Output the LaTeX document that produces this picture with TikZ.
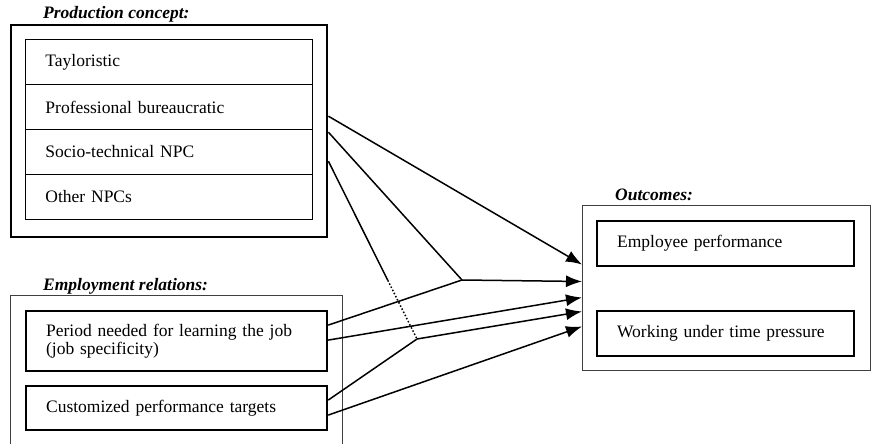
\documentclass[tikz,border=0pt]{standalone}
\usepackage{fontspec}
\setmainfont{Liberation Serif}
\usepackage{tikz}
\usetikzlibrary{arrows.meta,calc}

\tikzset{
    txt/.style={font=\fontsize{17.5}{18.5}\selectfont},
    heading/.style={txt, font=\fontsize{17.5}{18.5}\selectfont\bfseries\itshape, anchor=base west, inner sep=0pt},
    frame/.style={draw=black!75, line width=1pt, anchor=north west, inner sep=0pt},
    heavyframe/.style={draw, line width=2.4pt, anchor=north west, inner sep=0pt},
    row/.style={txt, draw, line width=0.9pt, anchor=north west, minimum height=45pt, text width=247pt, inner xsep=20pt, inner ysep=0pt, align=left},
    item/.style={txt, draw, line width=2.2pt, anchor=north west, inner xsep=20pt, inner ysep=0pt, align=left},
    line/.style={line width=1.5pt},
    link/.style={line, -{Latex[length=16pt,width=12pt]}}
}

\begin{document}
\begin{tikzpicture}[x=1pt,y=-1pt]
    \useasboundingbox (0,0) rectangle (871,444);
    \clip (0,0) rectangle (871,444);

    \node[heading] (prodlabel) at (43,19) {Production concept:};
    \node[heavyframe, minimum width=316pt, minimum height=212pt] (prodbox) at (10,24) {};
    \foreach \name/\label [count=\i] in {taylor/Tayloristic, profbur/Professional bureaucratic, sociotech/Socio-technical NPC, othernpc/Other NPCs}
        \node[row] (\name) at (25,{39+45*(\i-1)}) {\label};

    \node[heading] (emplabel) at (43,290) {Employment relations:};
    \node[frame, minimum width=332pt, minimum height=200pt] (empbox) at (10,295) {};
    \node[item, text width=261pt, minimum height=60pt] (learning) at (25,310) {Period needed for learning the job\\(job specificity)};
    \node[item, text width=261pt, minimum height=44pt] (targets) at (25,385) {Customized performance targets};

    \node[heading] (outlabel) at (615,200) {Outcomes:};
    \node[frame, minimum width=288pt, minimum height=165pt] (outbox) at (582,205) {};
    \node[item, text width=217pt, minimum height=45pt] (perform) at (596,220) {Employee performance};
    \node[item, text width=217pt, minimum height=45pt] (pressure) at (596,310) {Working under time pressure};

    \coordinate (jA) at (462,280);
    \coordinate (jB) at (417,339);

    \draw[link] ([yshift=15pt]prodbox.east) -- ([yshift=23.5pt]outbox.west);
    \draw[line] ([yshift=-1pt]prodbox.east) -- (jA);
    \draw[line] ([yshift=16pt]learning.east) -- (jA);
    \draw[link] (jA) -- ([yshift=6.5pt]outbox.west);
    \draw[link] ([yshift=1pt]learning.east) -- ([yshift=-9.5pt]outbox.west);
    \draw[line] ([yshift=-30pt]prodbox.east) coordinate (p3) -- ($(p3)!0.67!(jB)$) coordinate (dotstart);
    \draw[line, dotted] (dotstart) -- (jB);
    \draw[line] ([yshift=8pt]targets.east) -- (jB);
    \draw[link] (jB) -- ([yshift=-23.5pt]outbox.west);
    \draw[link] ([yshift=-7pt]targets.east) -- ([yshift=-38.5pt]outbox.west);
\end{tikzpicture}
\end{document}
